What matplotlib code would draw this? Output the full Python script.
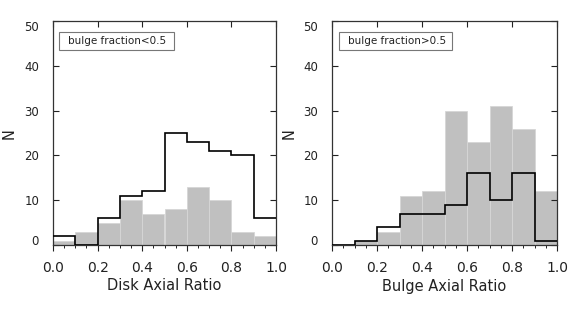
import numpy as np
import matplotlib
matplotlib.use("Agg")
import matplotlib.pyplot as plt
from matplotlib.transforms import ScaledTranslation
from matplotlib.patches import Rectangle

bin_edges = [0.0, 0.1, 0.2, 0.3, 0.4, 0.5, 0.6, 0.7, 0.8, 0.9, 1.0]

left_gray = [1, 3, 5, 10, 7, 8, 13, 10, 3, 2]
left_black = [2, 0, 6, 11, 12, 25, 23, 21, 20, 6]
right_gray = [0, 1, 3, 11, 12, 30, 23, 31, 26, 12]
right_black = [0, 1, 4, 7, 7, 9, 16, 10, 16, 1]

left_xlabel = "Disk Axial Ratio"
right_xlabel = "Bulge Axial Ratio"
left_legend = "bulge fraction<0.5"
right_legend = "bulge fraction>0.5"
ylabel = "N"
xticks = [0.0, 0.2, 0.4, 0.6, 0.8, 1.0]
yticks = [0, 10, 20, 30, 40, 50]

plt.rcParams['font.family'] = ['DejaVu Sans']

fig = plt.figure(figsize=(5.79, 3.12), dpi=100)

H = 312.0
W = 579.0
panels = [
    (53, 276, left_gray, left_black, left_xlabel, left_legend, (59, 174), 9.5),
    (332, 557, right_gray, right_black, right_xlabel, right_legend, (339, 452), 289.5),
]

TXT = '#222222'

for (x0, x1, gray, black, xlab, leg, box, nx) in panels:
    ax = fig.add_axes([x0 / W, 1 - 245 / H, (x1 - x0) / W, 224 / H])
    edges = np.array(bin_edges)
    ax.bar(edges[:-1], gray, width=0.1, align='edge', color='#c0c0c0',
           edgecolor='#d6d6d6', linewidth=0.6, zorder=1)
    ax.stairs(black, edges, baseline=None, color='black', linewidth=1.2, zorder=3)
    ax.set_xlim(0, 1)
    ax.set_ylim(0, 50)
    ax.set_xticks(xticks)
    ax.set_xticklabels(["%.1f" % v for v in xticks])
    ax.set_xticks(np.arange(0, 1.0001, 0.05), minor=True)
    ax.set_yticks(yticks)
    ax.set_yticklabels([str(v) for v in yticks])
    ax.tick_params(axis='x', which='major', direction='out', length=4.5, width=0.8,
                   labelsize=10, pad=7, colors='#222222', labelcolor=TXT)
    ax.tick_params(axis='x', which='minor', direction='out', length=2.5, width=0.7,
                   colors='#222222')
    ax.tick_params(axis='y', which='major', direction='in', length=4, width=0.8,
                   left=True, right=True, labelsize=8.5, pad=10, labelcolor=TXT,
                   colors='#222222')
    for sp in ax.spines.values():
        sp.set_linewidth(0.9)
        sp.set_color('#333333')
    sec = ax.secondary_xaxis('top')
    sec.set_xticks(xticks)
    sec.tick_params(axis='x', direction='in', length=4, width=0.8, labeltop=False,
                    colors='#222222')
    sec.spines['top'].set_visible(False)
    # shift edge labels inward like the reference
    labs = ax.get_yticklabels()
    labs[0].set_transform(labs[0].get_transform() + ScaledTranslation(0, 5 / 100, fig.dpi_scale_trans))
    labs[-1].set_transform(labs[-1].get_transform() + ScaledTranslation(0, -5 / 100, fig.dpi_scale_trans))
    ax.set_xlabel(xlab, fontsize=10.5, color=TXT, va='center')
    ax.xaxis.set_label_coords(0.5, (245 - 286) / 224)
    fig.text(nx / W, 1 - 134 / H, ylabel, rotation=90, ha='center', va='center',
             fontsize=10.5, color=TXT)
    bx0 = (box[0] - x0) / (x1 - x0)
    bx1 = (box[1] - x0) / (x1 - x0)
    by0 = (245 - 50) / 224
    by1 = (245 - 32) / 224
    ax.add_patch(Rectangle((bx0, by0), bx1 - bx0, by1 - by0, transform=ax.transAxes,
                           facecolor='white', edgecolor='#777777', linewidth=0.8, zorder=5))
    ax.text((68 - x0 + (box[0] - 59)) / (x1 - x0), (by0 + by1) / 2, leg, transform=ax.transAxes,
            fontsize=7.5, va='center', ha='left', color=TXT, zorder=6)

fig.savefig("out.png", dpi=100)
